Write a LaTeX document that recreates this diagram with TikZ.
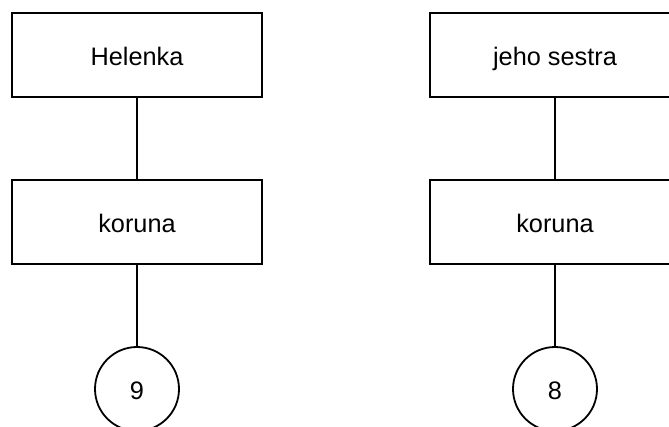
\documentclass[tikz,border=0pt]{standalone}
\usepackage{fontspec}
\setmainfont{Liberation Sans}
\begin{document}
\begin{tikzpicture}[x=1pt,y=-1pt,
  every node/.style={font=\fontsize{25.3}{29}\selectfont, line width=1.8pt,
    inner sep=0pt, text height=20pt, text depth=0pt},
  box/.style={draw, rectangle, minimum width=250pt, minimum height=84pt},
  leaf/.style={draw, circle, minimum size=84pt},
  link/.style={line width=1.8pt}]
\useasboundingbox (0,0) rectangle (669,426);
\clip (0,0) rectangle (669,426);
% left tree
\node[box] (h) at (137,55) {Helenka};
\node[box] (k1) at (137,222) {koruna};
\node[leaf] (n9) at (137,389) {9};
\draw[link] (h) -- (k1);
\draw[link] (k1) -- (n9);
% right tree
\node[box] (s) at (555,55) {jeho sestra};
\node[box] (k2) at (555,222) {koruna};
\node[leaf] (n8) at (555,389) {8};
\draw[link] (s) -- (k2);
\draw[link] (k2) -- (n8);
\end{tikzpicture}
\end{document}
